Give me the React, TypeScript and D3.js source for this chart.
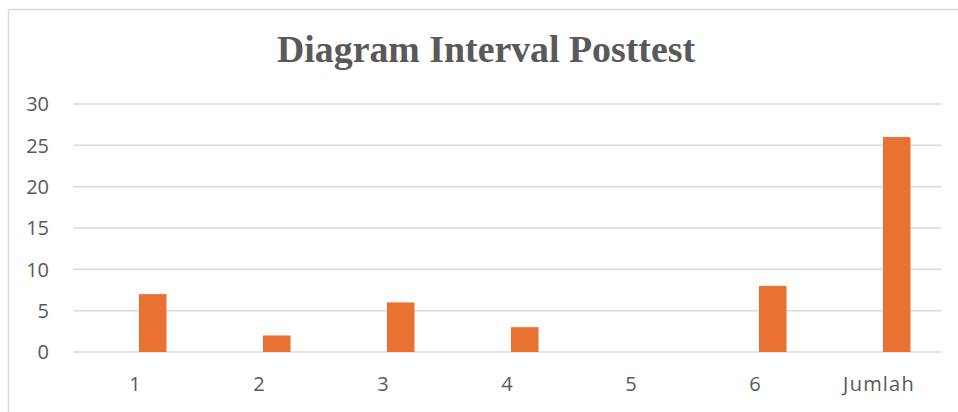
import React from "react";
import * as d3 from "d3";

const categories = ["1", "2", "3", "4", "5", "6", "Jumlah"];
const values = [7, 2, 6, 3, 0, 8, 26];
const yTicks = [0, 5, 10, 15, 20, 25, 30];
const title = "Diagram Interval Posttest";

export default function App() {
  const W = 958, H = 412;
  const left = 73, right = 941, top = 104, bottom = 352;
  const x = d3.scaleBand<string>().domain(categories).range([left, right]).padding(0);
  const y = d3.scaleLinear().domain([0, 30]).range([bottom, top]);
  const barW = 27.5;
  const barOffset = 4;
  const grey = "#595959";
  return (
    <svg width={W} height={H} style={{ position: "absolute", left: 0, top: 0, background: "#fff" }}>
      <rect x={0} y={0} width={W} height={H} fill="#fff" />
      <line x1={8.5} x2={W} y1={9.5} y2={9.5} stroke="#d9d9d9" strokeWidth={1.5} />
      <line x1={8.5} x2={8.5} y1={9.5} y2={H} stroke="#d9d9d9" strokeWidth={1.5} />
      <text x={486} y={62} textAnchor="middle" fontFamily="Liberation Serif" fontWeight="bold" fontSize={37}
        textLength={418} lengthAdjust="spacingAndGlyphs" fill={grey}>
        {title}
      </text>
      {yTicks.map((t) => (
        <g key={t}>
          <line x1={left} x2={right} y1={y(t)} y2={y(t)} stroke="#d9d9d9" strokeWidth={1.5} />
          <text x={49} y={y(t)} dy="0.36em" textAnchor="end" fontFamily="Open Sans" fontSize={20} fill={grey}>
            {t}
          </text>
        </g>
      ))}
      {categories.map((c, i) => {
        const cx = (x(c) as number) + x.bandwidth() / 2;
        return (
          <g key={c}>
            <rect x={cx + barOffset} y={y(values[i])} width={barW} height={bottom - y(values[i])} fill="#E97132" />
            <text x={cx} y={391} textAnchor="middle" fontFamily="Open Sans" fontSize={20} letterSpacing={c.length > 1 ? 1.2 : 0} fill={grey}>
              {c}
            </text>
          </g>
        );
      })}
    </svg>
  );
}
